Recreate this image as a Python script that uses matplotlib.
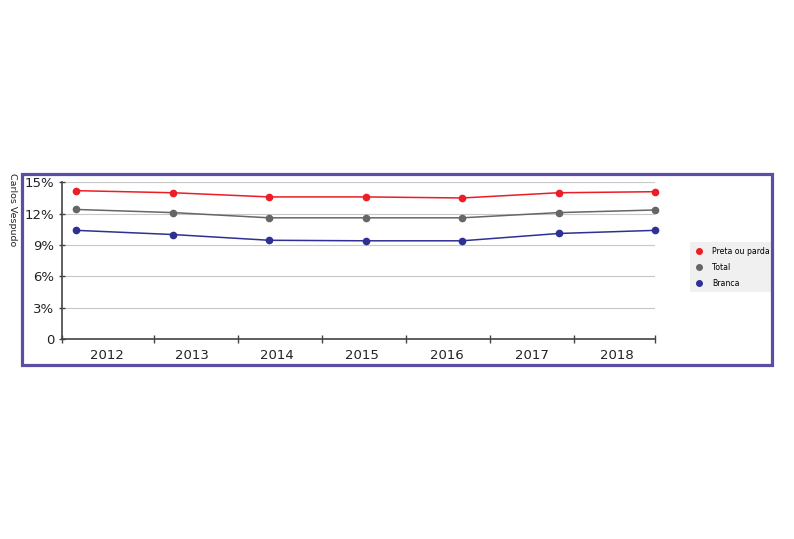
import matplotlib
matplotlib.use("Agg")
import matplotlib.pyplot as plt
import matplotlib.patches as patches
from matplotlib.lines import Line2D
import numpy as np

years = ["2012", "2013", "2014", "2015", "2016", "2017", "2018"]
preta_parda = [14.2, 14.0, 13.6, 13.6, 13.5, 14.0, 14.1]
total = [12.4, 12.1, 11.6, 11.6, 11.6, 12.1, 12.35]
branca = [10.4, 10.0, 9.45, 9.4, 9.4, 10.1, 10.4]
y_ticks = [0, 3, 6, 9, 12, 15]
y_labels = ["0", "3%", "6%", "9%", "12%", "15%"]

series = [
    ("Preta ou parda", preta_parda, "#ee1c25"),
    ("Total", total, "#666666"),
    ("Branca", branca, "#2e3192"),
]

W, H = 794, 539
fig = plt.figure(figsize=(W / 100, H / 100), dpi=100)


def fx(px):
    return px / W


def fy(py):
    return 1 - py / H


# plot area in pixel coords of the reference
left, right, top, bottom = 62, 655, 182.3, 339
ax = fig.add_axes([fx(left), fy(bottom), fx(right - left), (bottom - top) / H])

# data points are spread over the whole band axis, labels sit in band centers
n = len(years)
x_pts = np.linspace(0.17, n, n)

for name, vals, color in series:
    ax.plot(x_pts, vals, color=color, lw=1.1, marker="o", ms=4.5,
            clip_on=False, zorder=3)

ax.set_xlim(0, n)
ax.set_ylim(0, 15)

ax.set_yticks(y_ticks)
ax.set_yticklabels(y_labels, fontsize=9.5, color="#222222")
ax.grid(axis="y", color="#c8c8c8", lw=0.8)
ax.set_axisbelow(True)

# band boundary ticks (no labels) and centered year labels
ax.set_xticks([0] + [k * 0.99 + 0.1 for k in range(1, n)] + [n])
ax.set_xticklabels([])
ax.set_xticks([k * 1.003 + 0.53 for k in range(n)], minor=True)
ax.set_xticklabels(years, minor=True, fontsize=9.5, color="#222222")
ax.tick_params(axis="x", which="minor", length=0, pad=7.5)
ax.tick_params(axis="x", which="major", direction="inout", length=6,
               color="#444444", width=1)
ax.tick_params(axis="y", direction="inout", length=5, color="#444444",
               width=1, pad=3)

for s in ["top", "right"]:
    ax.spines[s].set_visible(False)
for s in ["left", "bottom"]:
    ax.spines[s].set_color("#444444")
    ax.spines[s].set_linewidth(1.2)

# legend: grey panel plus marker-only entries
fig.patches.append(patches.Rectangle((fx(690), fy(292)), fx(771 - 690), 50 / H,
                                     transform=fig.transFigure,
                                     facecolor="#eff0ef", edgecolor="none",
                                     zorder=1))
handles = [Line2D([], [], ls="none", marker="o", ms=4, color=c)
           for _, _, c in series]
fig.legend(handles, [s[0] for s in series], loc="upper left",
           bbox_to_anchor=(fx(697), fy(246.5)), frameon=False,
           handlelength=0.6, handletextpad=1.3, labelspacing=0.92,
           borderpad=0, borderaxespad=0,
           prop={"family": "DejaVu Sans", "size": 5.6})

# purple outer frame
frame = patches.Rectangle((fx(22), fy(364.5)), fx(772 - 22), (364.5 - 173.7) / H,
                          transform=fig.transFigure, fill=False,
                          edgecolor="#5a4fa3", lw=2.3, zorder=10)
fig.patches.append(frame)

fig.text(fx(12), fy(173), "Carlos Vespudo", rotation=-90, ha="center",
         va="top", fontsize=6.8, color="#222222")

fig.savefig("out.png", dpi=100)
plt.close(fig)
